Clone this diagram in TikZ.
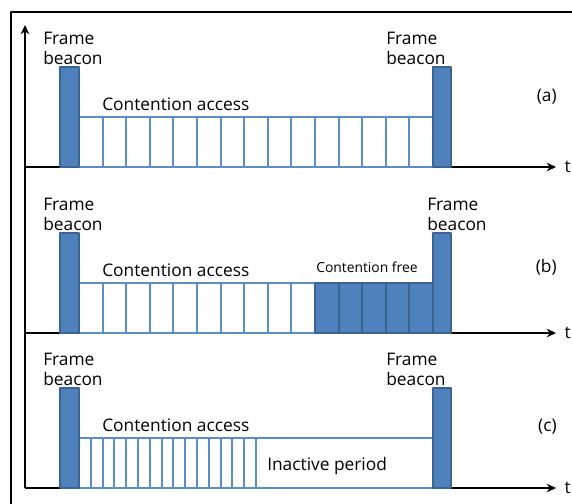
\documentclass[tikz,border=0pt]{standalone}
\usepackage{fontspec}
\setmainfont{Open Sans}
\usetikzlibrary{arrows.meta}
\definecolor{beaconblue}{HTML}{4F81BD}
\definecolor{beaconedge}{HTML}{3A6491}
\definecolor{slotedge}{HTML}{5B8DCB}
\begin{document}
\begin{tikzpicture}[x=0.75pt,y=-0.75pt,line join=round]
\tikzstyle{beacon}=[fill=beaconblue,draw=beaconedge,line width=1pt]
\tikzstyle{slot}=[fill=white,draw=slotedge,line width=1.4pt]
\tikzstyle{busy}=[fill=beaconblue,draw=beaconedge,line width=1.4pt]
\tikzstyle{lbl}=[inner sep=0pt,font=\fontsize{13}{15}\selectfont,align=left]
\tikzstyle{small}=[inner sep=0pt,font=\fontsize{10.4}{12}\selectfont]
\tikzstyle{axis}=[-{Stealth[length=7pt,width=6.5pt]},line width=0.8pt]
\useasboundingbox (0,0) rectangle (572,504);
% outer frame, cut by the page
\draw[line width=1.1pt] (11,520) |- (590,12);
% time axes
\coordinate (origin) at (25,488);
\coordinate (ytop) at (25,25);
\draw[axis] (origin) -- (ytop);
\foreach \p/\yb in {a/167,b/333,c/488}
  \draw[axis] (25,\yb) -- (556,\yb) node[lbl,anchor=west,xshift=6pt] (t\p) {t};
% (a) contention access only
\foreach \i in {0,...,14}
  \filldraw[slot] (79+\i*23.6,117) rectangle ++(23.6,50);
% (b) contention access + contention free
\foreach \i in {0,...,9}
  \filldraw[slot] (79+\i*23.6,283) rectangle ++(23.6,50);
\foreach \i in {10,...,14}
  \filldraw[busy] (79+\i*23.6,283) rectangle ++(23.6,50);
\node[small,anchor=west] (cfb) at (316,267) {Contention free};
% (c) short contention access + inactive period
\foreach \i in {0,...,14}
  \filldraw[slot] (79+\i*11.8,438) rectangle ++(11.8,50);
\filldraw[slot] (256,438) rectangle (433,488);
\node[lbl,anchor=west] (inact) at (267,466) {Inactive period};
% beacons and labels
\foreach \p/\yb/\xr/\ty in {a/167/386/97,b/333/427/267,c/488/386/427}{
  \filldraw[beacon] (60,\yb-100) rectangle (79,\yb);
  \filldraw[beacon] (433,\yb-100) rectangle (451,\yb);
  \node[lbl,anchor=west] (fbl\p) at (43,\yb-119) {Frame\\beacon};
  \node[lbl,anchor=west] (fbr\p) at (\xr,\yb-119) {Frame\\beacon};
  \node[lbl,anchor=west] (ca\p) at (102,\yb-63) {Contention access};
  \node[lbl,anchor=east] (tag\p) at (557,\ty) {(\p)};
}
\end{tikzpicture}
\end{document}
